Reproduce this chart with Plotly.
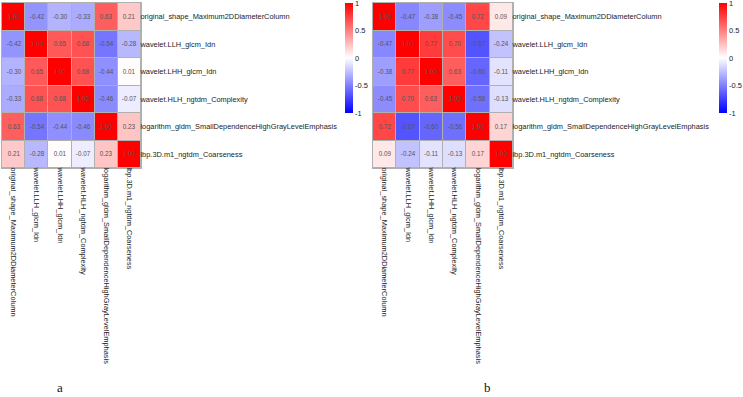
import plotly.graph_objects as go

features = [
    "original_shape_Maximum2DDiameterColumn",
    "wavelet.LLH_glcm_Idn",
    "wavelet.LHH_glcm_Idn",
    "wavelet.HLH_ngtdm_Complexity",
    "logarithm_gldm_SmallDependenceHighGrayLevelEmphasis",
    "lbp.3D.m1_ngtdm_Coarseness",
]

corr_a = [
    [1.00, -0.42, -0.30, -0.33, 0.63, 0.21],
    [-0.42, 1.00, 0.65, 0.68, -0.54, -0.28],
    [-0.30, 0.65, 1.00, 0.68, -0.44, 0.01],
    [-0.33, 0.68, 0.68, 1.00, -0.46, -0.07],
    [0.63, -0.54, -0.44, -0.46, 1.00, 0.23],
    [0.21, -0.28, 0.01, -0.07, 0.23, 1.00],
]

corr_b = [
    [1.00, -0.47, -0.38, -0.45, 0.72, 0.09],
    [-0.47, 1.00, 0.77, 0.70, -0.67, -0.24],
    [-0.38, 0.77, 1.00, 0.63, -0.60, -0.11],
    [-0.45, 0.70, 0.63, 1.00, -0.56, -0.13],
    [0.72, -0.67, -0.60, -0.56, 1.00, 0.17],
    [0.09, -0.24, -0.11, -0.13, 0.17, 1.00],
]

colorbar_ticks = [-1, -0.5, 0, 0.5, 1]
panel_labels = ["a", "b"]

W, H = 743, 397
scale = [[0, "rgb(0,0,255)"], [0.5, "rgb(255,255,255)"], [1, "rgb(255,0,0)"]]

fig = go.Figure()
for z, xa, ya, ca in [(corr_a, "x", "y", "coloraxis"), (corr_b, "x2", "y2", "coloraxis2")]:
    fig.add_trace(go.Heatmap(z=z, x=features, y=features, coloraxis=ca,
                             xgap=1, ygap=1, texttemplate="%{z:.2f}",
                             textfont=dict(size=6.3, color="#555555", family="Liberation Sans"),
                             xaxis=xa, yaxis=ya))

def px_x(v):
    return v / W

def px_y(v):
    return 1 - v / H

top, bottom = 3, 168
axis_common = dict(showgrid=False, zeroline=False, ticks="", showline=True,
                   linecolor="#b0b0b0", linewidth=1, mirror=True,
                   tickfont=dict(size=7.4, color="#222222", family="Liberation Sans"))

cb_common = dict(thickness=8, outlinewidth=0, ticks="", tickvals=colorbar_ticks,
                 ticktext=[str(t) for t in colorbar_ticks], ticklabeloverflow="allow",
                 tickfont=dict(size=7.5, color="#222222", family="Liberation Sans"),
                 xanchor="left", yanchor="top", y=px_y(3), len=110 / H, lenmode="fraction",
                 ypad=0, xpad=0)

fig.update_layout(
    width=W, height=H,
    margin=dict(l=0, r=0, t=0, b=0),
    paper_bgcolor="white",
    plot_bgcolor="#b0b0b0",
    font=dict(family="Liberation Sans"),
    xaxis=dict(domain=[px_x(2), px_x(141)], anchor="y", tickangle=90,
               ticklabelstandoff=-3, **axis_common),
    yaxis=dict(domain=[px_y(bottom), px_y(top)], anchor="x", side="right",
               autorange="reversed", ticklabelstandoff=-3, **axis_common),
    xaxis2=dict(domain=[px_x(373), px_x(513)], anchor="y2", tickangle=90,
                ticklabelstandoff=-3, **axis_common),
    yaxis2=dict(domain=[px_y(bottom), px_y(top)], anchor="x2", side="right",
                autorange="reversed", ticklabelstandoff=-3, **axis_common),
    coloraxis=dict(colorscale=scale, cmin=-1, cmax=1,
                   colorbar=dict(x=px_x(345), **cb_common)),
    coloraxis2=dict(colorscale=scale, cmin=-1, cmax=1,
                    colorbar=dict(x=px_x(719), **cb_common)),
    annotations=[
        dict(text=panel_labels[0], x=px_x(60), y=px_y(387), xref="paper", yref="paper",
             xanchor="center", yanchor="middle",
             showarrow=False, font=dict(family="Liberation Serif", size=13, color="#111111")),
        dict(text=panel_labels[1], x=px_x(487), y=px_y(387), xref="paper", yref="paper",
             xanchor="center", yanchor="middle",
             showarrow=False, font=dict(family="Liberation Serif", size=13, color="#111111")),
    ],
)

fig.write_html("out.html", config={"displayModeBar": False},
               post_script="document.body.style.margin='0';document.body.style.overflow='hidden';")
